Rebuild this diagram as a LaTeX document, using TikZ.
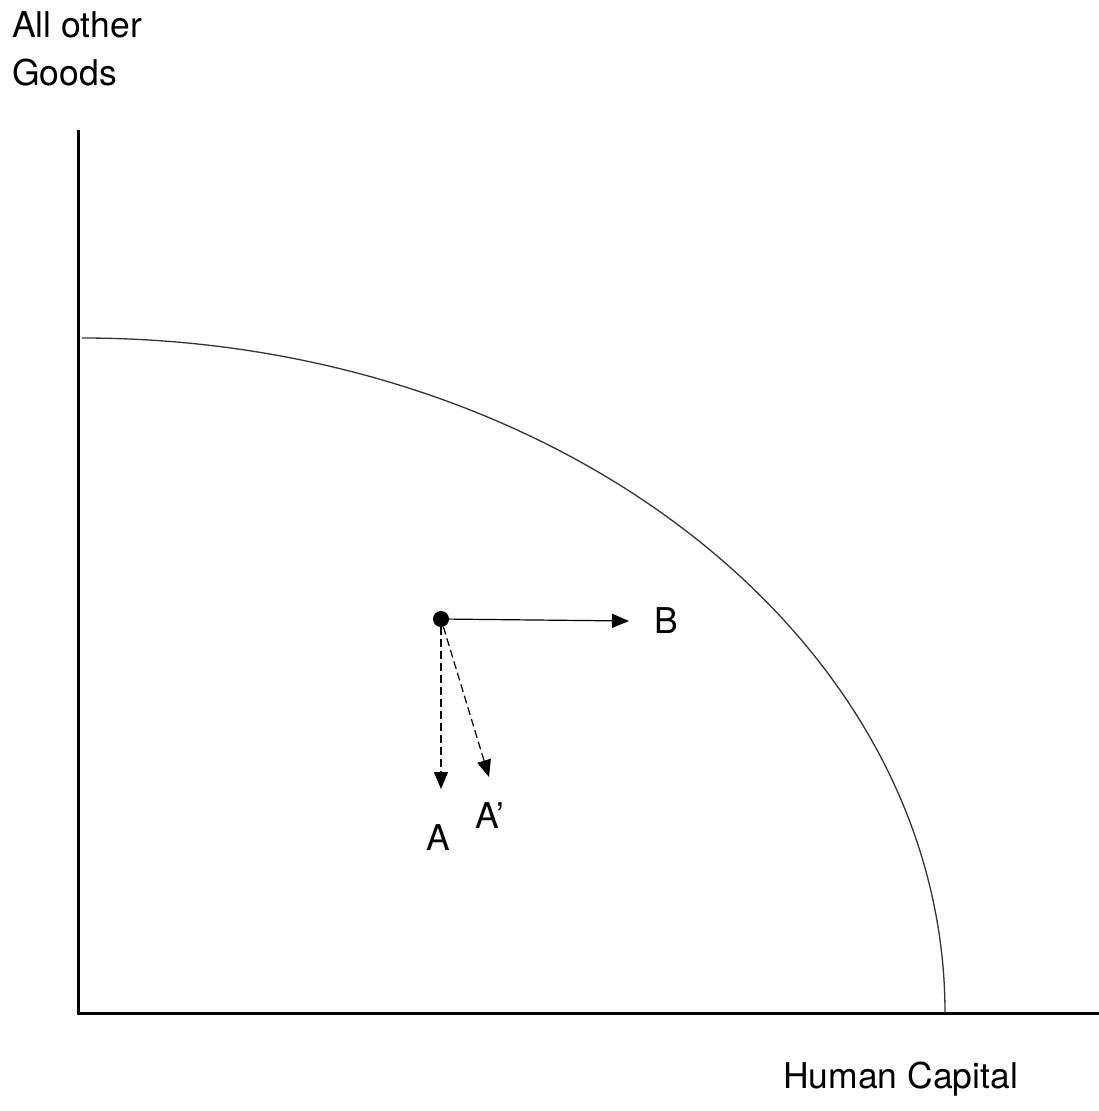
\documentclass[tikz,border=0pt]{standalone}
\usepackage{fontspec}
\setmainfont{TeX Gyre Heros}
\usetikzlibrary{arrows.meta}
\begin{document}
\begin{tikzpicture}[x=1pt,y=-1pt,
  lbl/.style={font=\fontsize{35.5}{42}\selectfont, inner sep=0pt},
  axis/.style={line width=3pt},
  frontier/.style={line width=1.3pt, black!80},
  mv/.style={line width=1.2pt, -{Triangle[length=17pt,width=14pt]}},
  mvdash/.style={mv, dash pattern=on 8pt off 4pt}]
\useasboundingbox (0,0) rectangle (1099,1111);
\coordinate (O) at (78,1013);
\coordinate (ytop) at (78,130);
\coordinate (xend) at (1099,1013);
\draw[axis] (ytop) -- (O) -- (xend);
% production possibility frontier: quarter ellipse
\draw[frontier] (82,338) arc[start angle=-90, end angle=0, x radius=863, y radius=675];
\node[lbl, anchor=base west] (ylab1) at (12,37) {All other};
\node[lbl, anchor=base west] (ylab2) at (12,85) {Goods};
\node[lbl, anchor=base west] (xlab) at (783,1088) {Human Capital};
\node[circle, fill=black, inner sep=0pt, minimum size=16pt] (P) at (441,619) {};
\coordinate (Bt) at (629,621);
\coordinate (At) at (441,789);
\coordinate (Apt) at (489,777);
\node[lbl, anchor=base] (B) at (666,633) {B};
\node[lbl, anchor=base] (A) at (438,850) {A};
\node[lbl, anchor=base] (Ap) at (490,828) {A'};
\draw[mv] (P) -- (Bt);
\draw[mvdash] (P) -- (At);
\draw[mvdash] (P) -- (Apt);
\end{tikzpicture}
\end{document}
